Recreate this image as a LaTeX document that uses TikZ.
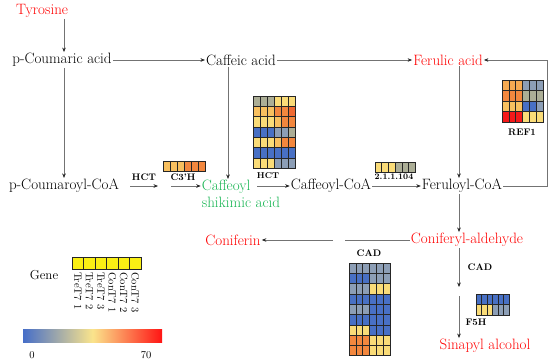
\documentclass[tikz,border=0pt]{standalone}
\usetikzlibrary{arrows.meta}
\definecolor{hbl}{RGB}{72,112,196}
\definecolor{hgb}{RGB}{140,158,182}
\definecolor{hgg}{RGB}{172,174,150}
\definecolor{hly}{RGB}{250,220,120}
\definecolor{hlo}{RGB}{246,170,82}
\definecolor{hyo}{RGB}{248,192,95}
\definecolor{hor}{RGB}{243,135,62}
\definecolor{hdo}{RGB}{240,105,50}
\definecolor{hrd}{RGB}{245,25,25}
\definecolor{txred}{RGB}{255,0,0}
\definecolor{txgreen}{RGB}{20,180,80}
\definecolor{gyel}{RGB}{250,240,20}
\definecolor{cbblue}{RGB}{70,110,200}
\definecolor{cbmid}{RGB}{250,228,140}
\definecolor{cbred}{RGB}{255,20,20}
\newcommand\heatmapdraw[5]{%
  \foreach \rowlist [count=\ri] in {#5}{%
    \foreach \cc [count=\ci] in \rowlist {%
      \filldraw[fill=\cc, draw=black!85, line width=0.5pt]
        ({#1+(\ci-1)*#3},{#2+(\ri-1)*#4}) rectangle ++(#3,#4);
    }%
  }%
}
\tikzset{
  main/.style={inner sep=1pt, font=\fontsize{15}{17}\selectfont},
  lbl/.style={inner sep=0pt, font=\bfseries\fontsize{9.5}{11}\selectfont},
  arr/.style={draw=black!55, line width=0.6pt, -{Stealth[length=4.5pt,width=3.6pt,color=black!85]}},
  plain/.style={draw=black!55, line width=0.6pt},
  legtxt/.style={inner sep=0pt, font=\fontsize{10.5}{12}\selectfont},
}
\begin{document}
\begin{tikzpicture}[x=1pt,y=-1pt]
\useasboundingbox (0,0) rectangle (550,362);
% coordinates
\coordinate (c228) at (228,0);
\coordinate (c459) at (459,0);
\coordinate (cR) at (547,0);
% compounds
\node[main,txred] (tyr) at (42,11) {Tyrosine};
\node[main] (pca) at (62,60) {p-Coumaric acid};
\node[main] (caf) at (241,60) {Caffeic acid};
\node[main,txred] (fa) at (448,60) {Ferulic acid};
\node[main] (pcoa) at (64,186) {p-Coumaroyl-CoA};
\node[main,txgreen,align=left] (cs) at (241,194) {Caffeoyl\\shikimic acid};
\node[main] (cc) at (331,186) {Caffeoyl-CoA};
\node[main] (frc) at (462,186) {Feruloyl-CoA};
\node[main,txred] (cald) at (467,240) {Coniferyl-aldehyde};
\node[main,txred] (conif) at (233,240) {Coniferin};
\node[main,txred] (sa) at (485,346) {Sinapyl alcohol};
% arrows top row
\draw[arr] (tyr.south -| pcoa.north) -- (pcoa.north |- pca.north);
\draw[arr] (pca) -- (caf);
\draw[arr] (caf) -- (fa);
\draw[arr] (pcoa.north |- pca.south) -- (pcoa.north);
\draw[arr] (caf.south -| c228) -- (cs.north -| c228);
\draw[arr] (fa.south -| c459) -- (frc.north -| c459);
% p-Coumaroyl-CoA to Caffeoyl shikimic acid
\coordinate (h1a) at (130,186);
\coordinate (h1b) at (158,186);
\coordinate (h2a) at (171,186);
\draw[arr] (h1a) -- (h1b);
\draw[arr] (h2a) -- (cs.west |- h2a);
\node[lbl] (lhct1) at (144,177) {HCT};
\node[lbl] (lc3h) at (183,177) {C3\textquoteright H};
\heatmapdraw{163}{161}{7}{10}{{hyo,hyo,hyo,hor,hor,hor}}
% Caffeoyl shikimic acid to Caffeoyl-CoA
\coordinate (s1) at (257,186);
\draw[arr] (s1) -- (cc.west);
\heatmapdraw{253}{96}{7}{10.3}{{hgg,hgg,hgg,hly,hly,hly},{hyo,hyo,hyo,hor,hor,hdo},{hly,hly,hly,hyo,hor,hor},{hbl,hbl,hbl,hgb,hgb,hgg},{hly,hly,hly,hyo,hor,hor},{hbl,hbl,hbl,hbl,hbl,hbl},{hly,hly,hly,hgb,hgb,hgb}}
\node[lbl,font=\bfseries\fontsize{8.5}{10}\selectfont] (lhct2) at (268,176) {HCT};
% Caffeoyl-CoA to Feruloyl-CoA
\draw[arr] (cc.east) -- (frc.west);
\heatmapdraw{375}{162}{6.7}{10}{{hly,hly,hly,hgg,hgg,hgg}}
\node[lbl,font=\bfseries\fontsize{8.5}{10}\selectfont] (l2111) at (394,177) {2.1.1.104};
% feedback REF1
\draw[arr] (frc.east) -- (frc.east -| cR) |- (fa.east);
\heatmapdraw{502}{80}{6.8}{10.5}{{hlo,hlo,hlo,hgb,hgb,hgb},{hor,hor,hor,hgg,hgg,hgg},{hyo,hyo,hyo,hbl,hbl,hgb},{hrd,hrd,hrd,hly,hly,hly}}
\node[lbl] (lref) at (522,132) {REF1};
% Feruloyl-CoA to Coniferyl-aldehyde
\draw[arr] (frc.south -| c459) -- (cald.north -| c459);
% Coniferyl-aldehyde to Coniferin
\coordinate (g1) at (345,240);
\coordinate (g2) at (333,240);
\draw[plain] (cald.west) -- (g1);
\draw[arr] (g2) -- (conif.east);
\node[lbl] (lcad1) at (369,253) {CAD};
\heatmapdraw{349}{263}{6.85}{10.3}{{hgb,hgb,hgb,hgb,hgb,hgb},{hbl,hbl,hbl,hgb,hgb,hgb},{hgb,hgb,hgb,hly,hly,hly},{hbl,hbl,hbl,hbl,hbl,hbl},{hgb,hgb,hgb,hbl,hbl,hbl},{hbl,hbl,hbl,hbl,hbl,hbl},{hly,hly,hly,hbl,hbl,hbl},{hor,hor,hor,hly,hly,hly},{hor,hor,hor,hly,hly,hly}}
% Coniferyl-aldehyde to Sinapyl alcohol
\coordinate (m1) at (459,287);
\coordinate (m2) at (459,296);
\draw[arr] (cald.south -| c459) -- (m1);
\draw[arr] (m2) -- (sa.north -| c459);
\node[lbl] (lcad2) at (480,267) {CAD};
\heatmapdraw{476}{294}{5.5}{10.5}{{hbl,hbl,hbl,hbl,hbl,hbl},{hly,hly,hly,hgb,hgb,hgb}}
\node[lbl] (lf5h) at (476,322) {F5H};
% legend
\node[legtxt,font=\fontsize{13}{15}\selectfont] (gene) at (44,275) {Gene};
\foreach \lab [count=\k] in {TreT7 1,TreT7 2,TreT7 3,ConT7 1,ConT7 2,ConT7 3}{
  \filldraw[fill=gyel, draw=black!85, line width=0.5pt] ({72+(\k-1)*11.5},257) rectangle ++(11.5,12);
  \node[legtxt,rotate=-90,anchor=west] (leg\k) at ({72+(\k-0.5)*11.5},272) {\lab};
}
\shade[left color=cbblue, right color=cbred, middle color=cbmid] (23,329) rectangle (162,342);
\node[legtxt] (zero) at (32,355) {0};
\node[legtxt] (seventy) at (146,355) {70};
\end{tikzpicture}
\end{document}
